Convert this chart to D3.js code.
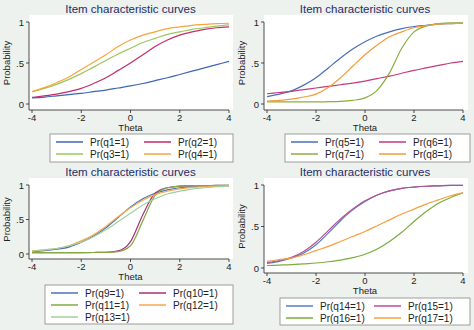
<!DOCTYPE html>
<meta charset="utf-8">
<head>
  <title>Item characteristic curves</title>
</head>

<style>
body {
  margin: 0;
  background: #eef2ee;
}

svg {
  display: block;
  font-family: "Liberation Sans", Arial, sans-serif;
}

.plotbg {
  fill: #fff;
}

.title {
  font-size: 11.5px;
  fill: #1d2c6b;
  text-anchor: middle;
}

.axis line, .axis path {
  stroke: #222;
  stroke-width: 0.8px;
  fill: none;
}

.ticklabel, .axislabel {
  font-size: 9.5px;
  fill: #222;
}

.curve {
  fill: none;
  stroke-width: 1.2px;
}

.legend rect {
  fill: #fff;
  stroke: #888;
  stroke-width: 0.8px;
}

.legend text {
  font-size: 10px;
  fill: #222;
}
</style>

<body>
  <svg width="474" height="330"></svg>

  <script src="https://cdnjs.cloudflare.com/ajax/libs/d3/7.8.5/d3.min.js"></script>

  <script>
// theta grid, values at every half step
var thetas = [-4, -3.5, -3, -2.5, -2, -1.5, -1, -0.5, 0, 0.5, 1, 1.5, 2, 2.5, 3, 3.5, 4];

var q1 = [.075, .085, .10, .115, .13, .15, .17, .195, .22, .25, .285, .32, .36, .40, .44, .48, .52];
var q2 = [.08, .10, .12, .15, .19, .25, .32, .41, .50, .60, .70, .78, .84, .88, .91, .93, .94];
var q3 = [.15, .19, .24, .30, .37, .45, .53, .61, .68, .75, .80, .85, .88, .91, .93, .95, .965];
var q4 = [.15, .20, .26, .33, .42, .51, .60, .70, .78, .84, .88, .92, .94, .96, .97, .98, .985];

var q5 = [.09, .12, .16, .23, .32, .44, .56, .67, .76, .83, .88, .92, .945, .96, .975, .98, .985];
var q6 = [.125, .14, .155, .175, .195, .215, .235, .255, .28, .31, .34, .375, .41, .44, .47, .50, .52];
var q7 = [.025, .025, .025, .025, .025, .028, .032, .045, .075, .17, .38, .68, .88, .95, .98, .99, .99];
var q8 = [.035, .045, .06, .085, .12, .20, .32, .46, .60, .72, .82, .88, .93, .955, .975, .98, .985];

var q9 = [.035, .05, .07, .10, .17, .26, .38, .53, .68, .80, .88, .93, .96, .975, .985, .99, .99];
var q10 = [.02, .02, .02, .02, .02, .022, .025, .045, .18, .57, .88, .96, .985, .99, .99, .995, .995];
var q11 = [.02, .02, .02, .02, .02, .022, .024, .035, .12, .48, .85, .96, .985, .99, .99, .995, .995];
var q12 = [.045, .06, .08, .12, .19, .28, .40, .54, .67, .78, .86, .91, .945, .965, .975, .985, .99];
var q13 = [.04, .06, .08, .12, .17, .25, .35, .47, .59, .71, .80, .87, .91, .94, .96, .975, .985];

var q14 = [.055, .08, .12, .18, .28, .42, .57, .70, .80, .88, .93, .96, .975, .985, .99, .995, .995];
var q15 = [.065, .09, .13, .20, .31, .45, .59, .71, .81, .88, .93, .96, .975, .985, .99, .995, .995];
var q16 = [.03, .035, .04, .05, .06, .075, .095, .125, .165, .23, .32, .43, .56, .68, .78, .85, .905];
var q17 = [.08, .10, .12, .16, .21, .26, .32, .38, .44, .51, .58, .65, .71, .77, .82, .87, .905];

var xTicks = [-4, -2, 0, 2, 4];
var yTicks = [0, 0.5, 1];
var yTickLabels = ['0', '.5', '1'];

var titleText = 'Item characteristic curves';
var xLabel = 'Theta';
var yLabel = 'Probability';

var panels = [
  {
    left: 29, right: 233, top: 15, bottom: 110,
    xRange: [32, 229], yRange: [104, 22],
    legend: {x: 50, y: 134, w: 183, h: 28},
    series: [
      {name: 'Pr(q1=1)', values: q1, color: '#3f66b0'},
      {name: 'Pr(q2=1)', values: q2, color: '#c42a6c'},
      {name: 'Pr(q3=1)', values: q3, color: '#9dc65c'},
      {name: 'Pr(q4=1)', values: q4, color: '#f6a53c'}
    ]
  },
  {
    left: 264, right: 468, top: 15, bottom: 110,
    xRange: [267, 463], yRange: [104, 22],
    legend: {x: 285, y: 134, w: 185, h: 28},
    series: [
      {name: 'Pr(q5=1)', values: q5, color: '#4770b6'},
      {name: 'Pr(q6=1)', values: q6, color: '#c63a7c'},
      {name: 'Pr(q7=1)', values: q7, color: '#8bae3f'},
      {name: 'Pr(q8=1)', values: q8, color: '#f49d38'}
    ]
  },
  {
    left: 29, right: 233, top: 178, bottom: 259,
    xRange: [32, 229], yRange: [254, 185],
    legend: {x: 45, y: 285, w: 188, h: 39},
    series: [
      {name: 'Pr(q9=1)', values: q9, color: '#4a73b8'},
      {name: 'Pr(q10=1)', values: q10, color: '#a8307c'},
      {name: 'Pr(q11=1)', values: q11, color: '#86a844'},
      {name: 'Pr(q12=1)', values: q12, color: '#f5a84c'},
      {name: 'Pr(q13=1)', values: q13, color: '#9fd0a0'}
    ]
  },
  {
    left: 264, right: 468, top: 178, bottom: 273,
    xRange: [267, 463], yRange: [268, 185],
    legend: {x: 280, y: 298, w: 190, h: 27},
    series: [
      {name: 'Pr(q14=1)', values: q14, color: '#5281c2'},
      {name: 'Pr(q15=1)', values: q15, color: '#b94f92'},
      {name: 'Pr(q16=1)', values: q16, color: '#7cab3c'},
      {name: 'Pr(q17=1)', values: q17, color: '#f5a040'}
    ]
  }
];

var svg = d3.select('svg');

panels.forEach(function(p) {
  var g = svg.append('g');

  var x = d3.scaleLinear().domain([-4, 4]).range(p.xRange);
  var y = d3.scaleLinear().domain([0, 1]).range(p.yRange);

  g.append('rect')
    .attr('class', 'plotbg')
    .attr('x', p.left)
    .attr('y', p.top)
    .attr('width', p.right - p.left)
    .attr('height', p.bottom - p.top);

  // title
  g.append('text')
    .attr('class', 'title')
    .attr('x', (p.xRange[0] + p.xRange[1]) / 2)
    .attr('y', p.top - 2)
    .text(titleText);

  // curves
  var line = d3.line()
    .x(function(d, i) { return x(thetas[i]); })
    .y(function(d) { return y(d); })
    .curve(d3.curveMonotoneX);

  g.selectAll('path.curve')
    .data(p.series)
    .enter()
    .append('path')
    .attr('class', 'curve')
    .attr('stroke', function(d) { return d.color; })
    .attr('d', function(d) { return line(d.values); });

  // x axis
  var xa = g.append('g').attr('class', 'axis');
  xa.append('line')
    .attr('x1', p.left).attr('x2', p.xRange[1])
    .attr('y1', p.bottom).attr('y2', p.bottom);
  xTicks.forEach(function(t) {
    xa.append('line')
      .attr('x1', x(t)).attr('x2', x(t))
      .attr('y1', p.bottom).attr('y2', p.bottom + 3);
    xa.append('text')
      .attr('class', 'ticklabel')
      .attr('x', x(t))
      .attr('y', p.bottom + 11)
      .attr('text-anchor', 'middle')
      .text(t < 0 ? '-' + Math.abs(t) : t);
  });
  xa.append('text')
    .attr('class', 'axislabel')
    .attr('x', (p.xRange[0] + p.xRange[1]) / 2)
    .attr('y', p.bottom + 21)
    .attr('text-anchor', 'middle')
    .text(xLabel);

  // y axis
  var ya = g.append('g').attr('class', 'axis');
  ya.append('line')
    .attr('x1', p.left).attr('x2', p.left)
    .attr('y1', p.yRange[1]).attr('y2', p.bottom);
  yTicks.forEach(function(t, i) {
    ya.append('line')
      .attr('x1', p.left - 3).attr('x2', p.left)
      .attr('y1', y(t)).attr('y2', y(t));
    ya.append('text')
      .attr('class', 'ticklabel')
      .attr('x', p.left - 5)
      .attr('y', y(t) + 3.5)
      .attr('text-anchor', 'end')
      .text(yTickLabels[i]);
  });
  ya.append('text')
    .attr('class', 'axislabel')
    .attr('transform', 'translate(' + (p.left - 19) + ',' + ((p.yRange[0] + p.yRange[1]) / 2) + ') rotate(-90)')
    .attr('text-anchor', 'middle')
    .text(yLabel);

  // legend
  var lg = g.append('g').attr('class', 'legend')
    .attr('transform', 'translate(' + p.legend.x + ',' + p.legend.y + ')');
  lg.append('rect')
    .attr('width', p.legend.w)
    .attr('height', p.legend.h);
  var item = lg.selectAll('g.item')
    .data(p.series)
    .enter()
    .append('g')
    .attr('class', 'item')
    .attr('transform', function(d, i) {
      return 'translate(' + (i % 2 ? 94 : 6) + ',' + (8 + Math.floor(i / 2) * 12) + ')';
    });
  item.append('line')
    .attr('x1', 0).attr('x2', 27)
    .attr('y1', 0).attr('y2', 0)
    .attr('stroke', function(d) { return d.color; })
    .attr('stroke-width', 1.5);
  item.append('text')
    .attr('x', 34)
    .attr('y', 3.5)
    .text(function(d) { return d.name; });
});
  </script>
</body>
</html>
